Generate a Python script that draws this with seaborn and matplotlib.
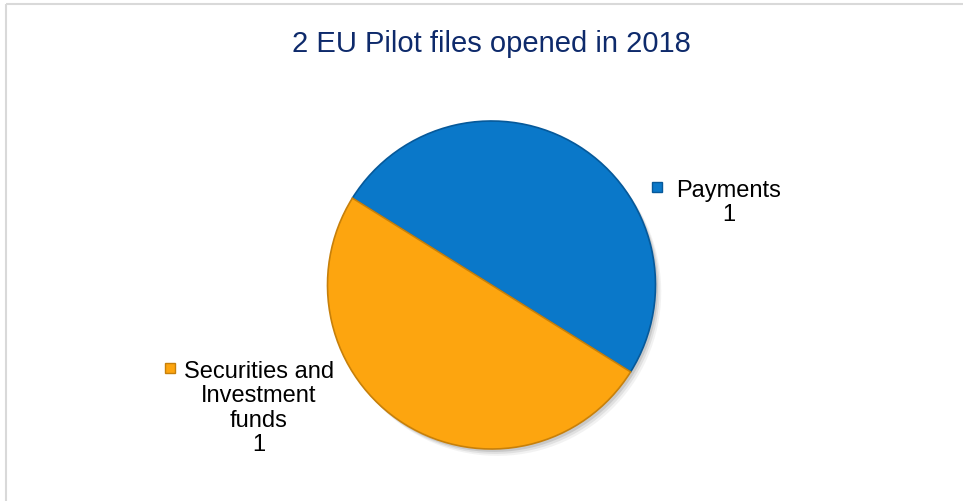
import matplotlib
matplotlib.use("Agg")
import matplotlib.pyplot as plt
from matplotlib.patches import Rectangle
import seaborn as sns

# data
categories = ["Payments", "Securities and\nInvestment\nfunds"]
counts = [1, 1]
colors = ["#0A78C9", "#FDA50F"]
edge_colors = ["#06599A", "#C7800A"]
title = "2 EU Pilot files opened in 2018"

sns.set_theme(style="white")
plt.rcParams["font.family"] = ["Liberation Sans", "DejaVu Sans"]

W, H = 963, 502
fig = plt.figure(figsize=(W / 100, H / 100), dpi=100)
ax = fig.add_axes([0, 0, 1, 1])
ax.set_xlim(0, W)
ax.set_ylim(H, 0)
ax.axis("off")

# chart frame (only left/top visible in the picture)
ax.add_patch(Rectangle((6, 5), W + 20, H + 20, fill=False,
                       edgecolor="#D9D9D9", linewidth=1.5))

ax.text(491, 44, title, ha="center", va="center", fontsize=21, color="#0E2A6B")

# pie in its own axes so angles aren't flipped by the inverted y axis
cx, cy, r = 491.5, 286, 164
lo, hi = 1.02, 1.06
pax = fig.add_axes([(cx - lo * r) / W, 1 - (cy + hi * r) / H,
                    (lo + hi) * r / W, (lo + hi) * r / H])

# soft grey drop shadow
for k, a in [(0.035, 0.08), (0.025, 0.12), (0.015, 0.18)]:
    pax.pie(counts, colors=["#606060"] * len(counts), startangle=148,
            counterclock=False, center=(k, -k * 1.2),
            wedgeprops=dict(linewidth=0, alpha=a))

wedges, _ = pax.pie(counts, colors=colors, startangle=148, counterclock=False,
                    wedgeprops=dict(linewidth=1.2))
for w, ec in zip(wedges, edge_colors):
    w.set_edgecolor(ec)

pax.set_xlim(-lo, hi)
pax.set_ylim(-hi, lo)
pax.set_aspect("equal")

# data labels: text centred, small marker left of first line
label_pos = [(729, 180), (259, 361)]
marker_x = [657, 170]
for cat, n, col, ec, (tx, ty), mx in zip(categories, counts, colors, edge_colors,
                                          label_pos, marker_x):
    ax.text(tx, ty, f"{cat}\n{n}", ha="center", va="top", fontsize=17,
            color="black", linespacing=1.14)
    ax.add_patch(Rectangle((mx - 5, ty + 3), 10, 10, facecolor=col,
                           edgecolor=ec, linewidth=1))

fig.savefig("out.png", dpi=100)
